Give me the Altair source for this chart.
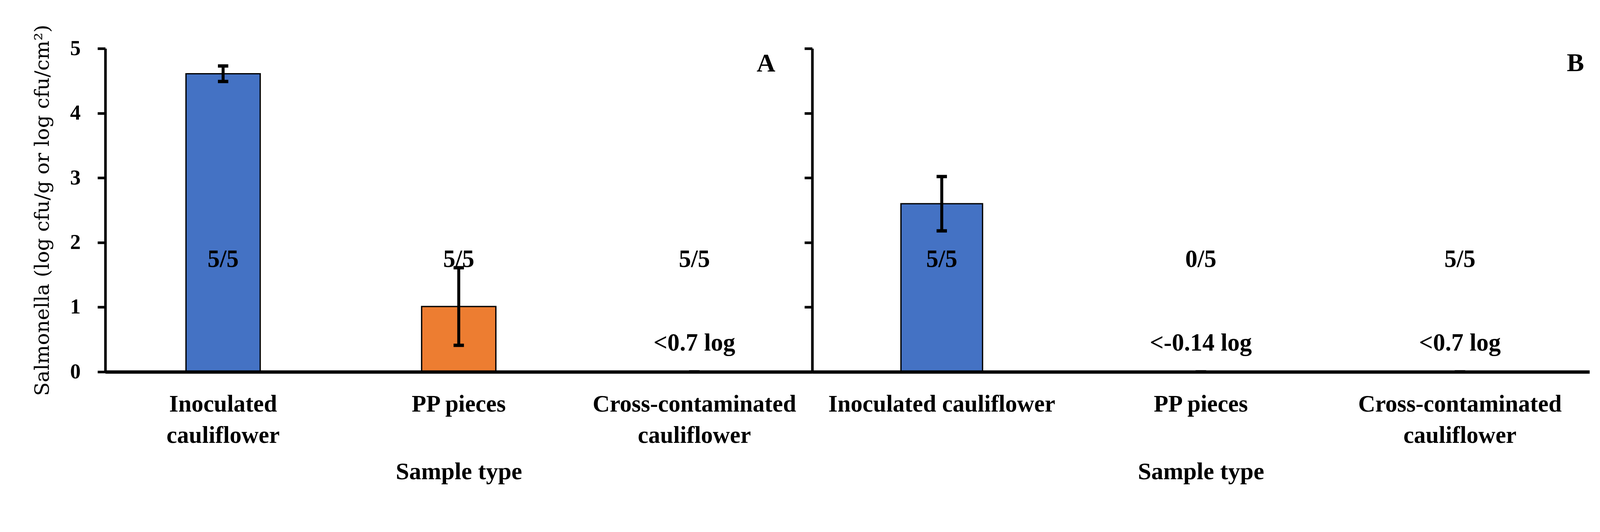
import altair as alt
import pandas as pd

# ---- data ----
categories = ["Inoculated cauliflower", "PP pieces", "Cross-contaminated cauliflower"]
mean_A = [4.61, 1.01, 0.0]
sd_A = [0.12, 0.60, 0.0]
mean_B = [2.60, 0.0, 0.0]
sd_B = [0.42, 0.0, 0.0]
positives_A = ["5/5", "5/5", "5/5"]
positives_B = ["5/5", "0/5", "5/5"]
limits_A = ["", "", "<0.7 log"]
limits_B = ["", "<-0.14 log", "<0.7 log"]
bar_colors = ["#4472C4", "#ED7D31", "#A5A5A5"]
y_ticks = [0, 1, 2, 3, 4, 5]

# ---- layout / style constants ----
BOLD = "Liberation Serif"
PLOT_H = 873
FRAC_Y = 1.62
LIMIT_Y = 0.33


def panel(name, means, sds, fracs, limits, width, show_y_labels, label_expr, corner_xy):
    df = pd.DataFrame({
        "category": categories,
        "mean": means,
        "lo": [m - s for m, s in zip(means, sds)],
        "hi": [m + s for m, s in zip(means, sds)],
        "frac": fracs,
        "limit": limits,
        "color": bar_colors,
    })
    xaxis = alt.Axis(
        title="Sample type", titleFont=BOLD, titleFontSize=65, titleFontWeight="bold",
        titleColor="black", titlePadding=38,
        labelFont=BOLD, labelFontSize=64, labelFontWeight="bold", labelColor="black",
        labelAngle=0, labelLimit=0, labelPadding=56, labelLineHeight=84,
        labelExpr=label_expr,
        ticks=False, tickSize=0, domainColor="black", domainWidth=9, grid=False, zindex=1,
    )
    if show_y_labels:
        yaxis = alt.Axis(
            values=y_ticks, format="d", grid=False,
            title="Salmonella (log cfu/g or log cfu/cm²)", titleFont="DejaVu Serif",
            titleFontSize=54, titleFontWeight="normal", titleColor="black", titlePadding=46,
            labelFont=BOLD, labelFontSize=57, labelFontWeight="bold", labelColor="black",
            labelPadding=46, tickSize=21, tickWidth=7, tickColor="black",
            domainColor="black", domainWidth=7, zindex=1,
        )
    else:
        yaxis = alt.Axis(
            values=y_ticks, grid=False, labels=False, title="",
            tickSize=21, tickWidth=7, tickColor="black",
            domainColor="black", domainWidth=7, zindex=1,
        )
    yscale = alt.Scale(domain=[0, 5], nice=False)
    base = alt.Chart(df).encode(
        x=alt.X("category:N", sort=categories,
                scale=alt.Scale(paddingInner=0, paddingOuter=0), axis=xaxis)
    )
    bars = base.mark_bar(stroke="black", strokeWidth=3.5, width=alt.RelativeBandSize(0.315)).encode(
        y=alt.Y("mean:Q", scale=yscale, axis=yaxis),
        fill=alt.Fill("color:N", scale=None),
    )
    err = base.mark_rule(color="black", strokeWidth=8).encode(
        y=alt.Y("lo:Q", scale=yscale, axis=yaxis), y2="hi:Q"
    )
    cap_hi = base.mark_tick(color="black", size=28, thickness=9, opacity=1).encode(
        y=alt.Y("hi:Q", scale=yscale, axis=yaxis)
    )
    cap_lo = base.mark_tick(color="black", size=28, thickness=9, opacity=1).encode(
        y=alt.Y("lo:Q", scale=yscale, axis=yaxis)
    )
    frac_text = base.mark_text(font=BOLD, fontSize=66, fontWeight="bold", color="black",
                               baseline="alphabetic").encode(
        y=alt.datum(FRAC_Y), text="frac:N"
    )
    limit_text = base.mark_text(font=BOLD, fontSize=66, fontWeight="bold", color="black",
                                baseline="alphabetic").encode(
        y=alt.datum(LIMIT_Y), text="limit:N"
    )
    corner = alt.Chart(pd.DataFrame({"panel": [name]})).mark_text(
        font=BOLD, fontSize=70, fontWeight="bold", color="black", baseline="alphabetic"
    ).encode(x=alt.value(corner_xy[0]), y=alt.value(corner_xy[1]), text="panel:N")
    return alt.layer(bars, err, cap_hi, cap_lo, frac_text, limit_text, corner).properties(
        width=width, height=PLOT_H
    )


pA = panel("A", mean_A, sd_A, positives_A, limits_A, 1910, True,
           "datum.value == 'PP pieces' ? datum.value : split(datum.value, ' ')", (1785, 62))
pB = panel("B", mean_B, sd_B, positives_B, limits_B, 2100, False,
           "datum.value == 'Cross-contaminated cauliflower' ? split(datum.value, ' ') : datum.value",
           (2062, 61))

# panel B's left axis (ticks 21px + half stroke) and panel A's x-domain stroke overhang
# are taken back out of the gap so the two plot areas meet exactly
chart = alt.hconcat(pA, pB, spacing=-29, bounds="full").configure_view(stroke=None).properties(
    padding={"left": 80, "top": 22, "right": 20, "bottom": 20}, background="white"
)

chart.save("out.html", embed_options={"renderer": "svg", "actions": False})
